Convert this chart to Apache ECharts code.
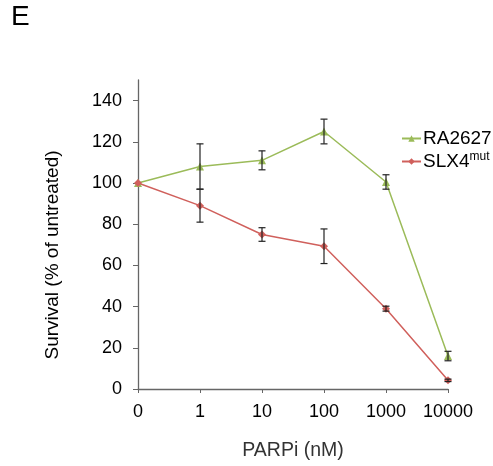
<!DOCTYPE html>
<html><head><meta charset="utf-8">
<script src="https://cdn.jsdelivr.net/npm/echarts@6/dist/echarts.min.js"></script>
<style>html,body{margin:0;padding:0;background:#fff}#c{width:493px;height:466px}</style>
</head><body><div id="c"></div>
<script>
const categories = ['0', '1', '10', '100', '1000', '10000'];
const raValues = [100, 108, 111, 125, 100.5, 16];
const raErr = [0, 11, 4.6, 6, 3.5, 2.3];
const slxValues = [100, 89, 75, 69.3, 39, 4.2];
const slxErr = [0, 8, 3.3, 8.4, 1.2, 0.6];
const yTicks = [0, 20, 40, 60, 80, 100, 120, 140];

const font = 'Liberation Sans, Arial, sans-serif';
const green = '#9bbb59';
const red = '#d0605c';

function errData(vals, errs) {
  return vals.map((v, i) => [i, v - errs[i], v + errs[i]]);
}
function errRender(params, api) {
  const x = api.value(0);
  const lo = api.coord([x, api.value(1)]);
  const hi = api.coord([x, api.value(2)]);
  if (Math.abs(lo[1] - hi[1]) < 1) return null;
  const w = 3.5;
  const st = { stroke: '#222', lineWidth: 1.2 };
  return { type: 'group', children: [
    { type: 'line', shape: { x1: lo[0], y1: lo[1], x2: hi[0], y2: hi[1] }, style: st },
    { type: 'line', shape: { x1: lo[0] - w, y1: lo[1], x2: lo[0] + w, y2: lo[1] }, style: st },
    { type: 'line', shape: { x1: hi[0] - w, y1: hi[1], x2: hi[0] + w, y2: hi[1] }, style: st }
  ]};
}

const chart = echarts.init(document.getElementById('c'));
chart.setOption({
  animation: false,
  textStyle: { fontFamily: font },
  graphic: [
    { type: 'text', left: 11, top: 3.5, style: { text: 'E', font: '28px ' + font, fill: '#000' } },
    { type: 'text', x: 53, y: 255, rotation: Math.PI / 2,
      style: { text: 'Survival (% of untreated)', font: '19px ' + font, fill: '#000', align: 'center', verticalAlign: 'middle' } }
  ],
  grid: { left: 138, right: 45, top: 80, bottom: 75.5 },
  legend: {
    left: 396, top: 124, orient: 'vertical', itemWidth: 19, itemHeight: 8, itemGap: 3,
    textStyle: { fontSize: 19, color: '#000', fontFamily: font, padding: [0, 0, 0, -3],
      rich: { sup: { fontSize: 12, verticalAlign: 'top', padding: [0, 0, 9, 0], color: '#000', fontFamily: font } } },
    formatter: n => n === 'SLX4mut' ? 'SLX4{sup|mut}' : n,
    data: ['RA2627', 'SLX4mut']
  },
  xAxis: {
    type: 'category', data: categories, boundaryGap: false,
    name: 'PARPi (nM)', nameLocation: 'middle', nameGap: 52,
    nameTextStyle: { fontSize: 19.5, color: '#333', fontFamily: font },
    axisLine: { lineStyle: { color: '#666', width: 1.3 } },
    axisTick: { alignWithLabel: true, length: 4, interval: 0, lineStyle: { color: '#666' } },
    axisLabel: { fontSize: 18, color: '#000', margin: 14, interval: 0, hideOverlap: false, fontFamily: font }
  },
  yAxis: {
    type: 'value', min: 0, max: 150, interval: 10,
    axisLine: { show: true, lineStyle: { color: '#666', width: 1.3 } },
    axisTick: { show: true, length: 5, customValues: yTicks, lineStyle: { color: '#666' } },
    axisLabel: { fontSize: 18, color: '#000', margin: 16, customValues: yTicks, fontFamily: font },
    splitLine: { show: false }
  },
  series: [
    { name: 'RA2627', type: 'line', data: raValues, symbol: 'triangle', symbolSize: 8,
      itemStyle: { color: green }, lineStyle: { color: green, width: 1.5 }, z: 3 },
    { name: 'SLX4mut', type: 'line', data: slxValues, symbol: 'diamond', symbolSize: 8,
      itemStyle: { color: red }, lineStyle: { color: red, width: 1.5 }, z: 3 },
    { type: 'custom', renderItem: errRender, data: errData(raValues, raErr), z: 5, silent: true },
    { type: 'custom', renderItem: errRender, data: errData(slxValues, slxErr), z: 5, silent: true }
  ]
});
</script></body></html>
